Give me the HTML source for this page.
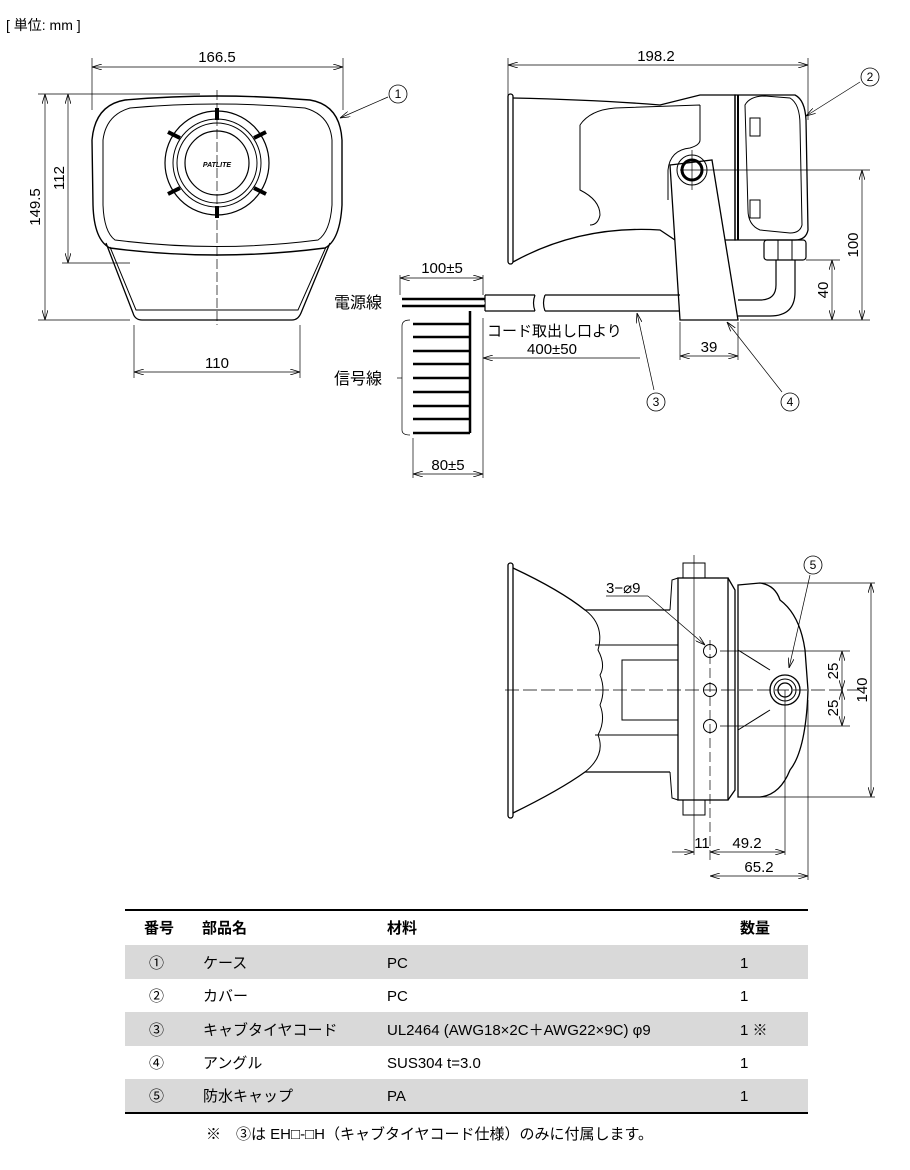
<!DOCTYPE html>
<html><head><meta charset="utf-8"><style>
body{margin:0;background:#fff;}
svg{display:block;font-family:"Liberation Sans","Noto Sans CJK JP",sans-serif;}
</style></head><body>
<svg width="910" height="1170" viewBox="0 0 910 1170" xmlns="http://www.w3.org/2000/svg">
<defs>
<marker id="a" viewBox="0 0 10 6" refX="10" refY="3" markerWidth="10" markerHeight="6" orient="auto-start-reverse" markerUnits="userSpaceOnUse"><path d="M0,0 L10,3 L0,6" fill="none" stroke="#000" stroke-width="0.8"/></marker>
</defs>
<text x="6" y="30" font-size="14">[ 単位: mm ]</text>
<g stroke="#000" fill="none" stroke-width="1">
<!-- FRONT VIEW -->
<line x1="92" y1="58" x2="92" y2="110" stroke-width="0.7"/>
<line x1="343" y1="58" x2="343" y2="110" stroke-width="0.7"/>
<line x1="92" y1="67" x2="343" y2="67" stroke-width="0.7" marker-start="url(#a)" marker-end="url(#a)"/>
<path d="M92,140 Q95,105 125,100 Q217,92 310,100 Q340,105 342,140 L342,205 Q340,240 325,248 Q217,262 110,248 Q94,240 93,205 Z" stroke-width="1.4"/>
<path d="M103,140 Q106,115 130,108 Q217,100 305,108 Q330,115 332,140 L332,205 Q330,232 318,240 Q217,253 115,240 Q104,232 103,205 Z"/>
<path d="M106,243 L133,313 Q135,320 142,320 L292,320 Q298,320 301,313 L330,243" stroke-width="1.3"/>
<path d="M110,247 L136,310 L298,310 L326,247"/>
<circle cx="217" cy="163" r="52" stroke-width="1.2"/>
<circle cx="217" cy="163" r="44"/>
<circle cx="217" cy="163" r="40"/>
<circle cx="217" cy="163" r="32" stroke-width="1.2"/>
<g stroke-width="4"><line x1="217" y1="108" x2="217" y2="120"/><line x1="217" y1="206" x2="217" y2="218"/><line x1="168" y1="132" x2="180" y2="138"/><line x1="266" y1="132" x2="254" y2="138"/><line x1="168" y1="194" x2="180" y2="188"/><line x1="266" y1="194" x2="254" y2="188"/></g>
<line x1="217" y1="90" x2="217" y2="325" stroke-dasharray="10,3" stroke-width="0.7"/>
<line x1="38" y1="94" x2="200" y2="94" stroke-width="0.7"/>
<line x1="38" y1="320" x2="130" y2="320" stroke-width="0.7"/>
<line x1="45" y1="94" x2="45" y2="320" stroke-width="0.7" marker-start="url(#a)" marker-end="url(#a)"/>
<line x1="62" y1="263" x2="130" y2="263" stroke-width="0.7"/>
<line x1="68" y1="94" x2="68" y2="263" stroke-width="0.7" marker-start="url(#a)" marker-end="url(#a)"/>
<line x1="134" y1="325" x2="134" y2="378" stroke-width="0.7"/>
<line x1="300" y1="325" x2="300" y2="378" stroke-width="0.7"/>
<line x1="134" y1="372" x2="300" y2="372" stroke-width="0.7" marker-start="url(#a)" marker-end="url(#a)"/>
<line x1="340" y1="118" x2="388" y2="97" stroke-width="0.7" marker-start="url(#a)"/>
<circle cx="398" cy="94" r="9" stroke-width="0.8"/>
<!-- SIDE VIEW -->
<line x1="508" y1="58" x2="508" y2="95" stroke-width="0.7"/>
<line x1="808" y1="58" x2="808" y2="120" stroke-width="0.7"/>
<line x1="508" y1="65" x2="808" y2="65" stroke-width="0.7" marker-start="url(#a)" marker-end="url(#a)"/>
<rect x="508" y="94" width="5" height="170" rx="2.5" stroke-width="1.3"/>
<path d="M513,98 Q600,100 660,105 L700,95 L735,95 L735,240 L675,240 L660,230 Q580,225 513,262" stroke-width="1.3"/>
<path d="M700,105 L700,140 Q700,145 690,148 Q670,150 668,170 L668,200 M580,125 Q590,110 615,108 L700,105 M580,125 L580,190 Q600,200 600,215 Q598,225 590,225"/>
<path d="M735,95 L795,95 Q805,100 806,120 L808,230 Q806,240 795,240 L735,240 Z" stroke-width="1.3"/>
<path d="M745,105 Q750,96 765,96 L790,98 Q800,104 800,125 L802,225 Q800,233 790,233 L760,230 Q748,225 748,210 Z"/>
<line x1="738" y1="95" x2="738" y2="240" stroke-width="2"/>
<rect x="750" y="118" width="10" height="18"/><rect x="750" y="200" width="10" height="18"/>
<rect x="764" y="240" width="42" height="20" rx="3" stroke-width="1.2"/>
<line x1="778" y1="240" x2="778" y2="260"/><line x1="792" y1="240" x2="792" y2="260"/>
<path d="M776,260 L776,285 Q776,300 760,300 L738,300 M795,260 L795,292 Q795,316 770,316 L738,316" stroke-width="1.2"/>
<path d="M670,165 L712,160 L738,320 L680,320 Z" fill="#fff" stroke-width="1.3"/>
<circle cx="692" cy="170" r="10" stroke-width="3"/>
<circle cx="692" cy="170" r="15"/>
<line x1="692" y1="150" x2="692" y2="190" stroke-width="0.7"/>
<line x1="680" y1="170" x2="870" y2="170" stroke-width="0.7"/>
<line x1="740" y1="320" x2="870" y2="320" stroke-width="0.7"/>
<line x1="806" y1="260" x2="840" y2="260" stroke-width="0.7"/>
<line x1="862" y1="170" x2="862" y2="320" stroke-width="0.7" marker-start="url(#a)" marker-end="url(#a)"/>
<line x1="832" y1="260" x2="832" y2="320" stroke-width="0.7" marker-start="url(#a)" marker-end="url(#a)"/>
<line x1="806" y1="116" x2="860" y2="82" stroke-width="0.7" marker-start="url(#a)"/>
<circle cx="870" cy="77" r="9" stroke-width="0.8"/>
<!-- cable -->
<path d="M485,295 L535,295 M485,311 L535,311 M535,295 Q532,303 535,311 M545,295 Q542,303 545,311 M545,295 L680,295 M545,311 L680,311" stroke-width="1.2"/>
<line x1="485" y1="295" x2="485" y2="311" stroke-width="1.2"/>
<line x1="402" y1="299" x2="485" y2="299" stroke-width="2.5"/><line x1="402" y1="306" x2="485" y2="306" stroke-width="2.5"/>
<line x1="402" y1="303" x2="485" y2="303" stroke="#fff" stroke-width="1"/>
<path d="M470,311 L470,433" stroke-width="2.5"/>
<g stroke-width="2.5"><line x1="413" y1="324" x2="470" y2="324"/><line x1="413" y1="337" x2="470" y2="337"/><line x1="413" y1="351" x2="470" y2="351"/><line x1="413" y1="364" x2="470" y2="364"/><line x1="413" y1="378" x2="470" y2="378"/><line x1="413" y1="392" x2="470" y2="392"/><line x1="413" y1="406" x2="470" y2="406"/><line x1="413" y1="419" x2="470" y2="419"/><line x1="413" y1="433" x2="470" y2="433"/></g>
<path d="M410,320 Q402,320 402,326 L402,430 Q402,435 410,435" stroke-width="0.7"/>
<line x1="397" y1="378" x2="402" y2="378" stroke-width="0.7"/>
<line x1="400" y1="275" x2="400" y2="295" stroke-width="0.7"/>
<line x1="483" y1="275" x2="483" y2="295" stroke-width="0.7"/>
<line x1="400" y1="278" x2="483" y2="278" stroke-width="0.7" marker-start="url(#a)" marker-end="url(#a)"/>
<line x1="413" y1="438" x2="413" y2="478" stroke-width="0.7"/>
<line x1="483" y1="318" x2="483" y2="478" stroke-width="0.7"/>
<line x1="413" y1="474" x2="483" y2="474" stroke-width="0.7" marker-start="url(#a)" marker-end="url(#a)"/>
<line x1="483" y1="358" x2="640" y2="358" stroke-width="0.7" marker-start="url(#a)"/>
<line x1="680" y1="322" x2="680" y2="360" stroke-width="0.7"/>
<line x1="738" y1="322" x2="738" y2="360" stroke-width="0.7"/>
<line x1="680" y1="356" x2="738" y2="356" stroke-width="0.7" marker-start="url(#a)" marker-end="url(#a)"/>
<line x1="637" y1="313" x2="654" y2="390" stroke-width="0.7" marker-start="url(#a)"/>
<circle cx="656" cy="402" r="9" stroke-width="0.8"/>
<line x1="727" y1="322" x2="782" y2="392" stroke-width="0.7" marker-start="url(#a)"/>
<circle cx="790" cy="402" r="9" stroke-width="0.8"/>
<!-- BOTTOM VIEW -->
<rect x="508" y="563" width="5" height="255" rx="2.5" stroke-width="1.3"/>
<path d="M513,568 Q560,590 585,610 L670,610 M513,813 Q560,790 585,772 L670,772" stroke-width="1.3"/>
<path d="M585,610 Q605,625 598,650 Q606,665 600,675 Q606,690 600,705 Q606,720 598,735 Q606,755 585,772"/>
<path d="M595,645 L678,645 M595,735 L678,735"/>
<rect x="622" y="660" width="56" height="60"/>
<path d="M670,610 L672,580 L678,578 M670,772 L672,798 L678,800" />
<rect x="678" y="578" width="50" height="222" stroke-width="1.3"/>
<path d="M728,578 L735,590 L735,790 L728,800" stroke-width="1.3"/>
<rect x="683" y="563" width="22" height="15"/><rect x="683" y="800" width="22" height="15"/>
<path d="M738,585 L760,583 Q775,585 780,600 Q800,615 805,650 L808,690 Q806,750 790,770 Q780,795 760,797 L738,797 Z" stroke-width="1.3"/>
<path d="M738,650 L770,670 M738,730 L770,710"/>
<circle cx="785" cy="690" r="15" stroke-width="1.3"/>
<circle cx="785" cy="690" r="11"/>
<circle cx="785" cy="690" r="7" stroke-width="1.3"/>
<circle cx="710" cy="651" r="6.5"/><circle cx="710" cy="690" r="6.5"/><circle cx="710" cy="726" r="6.5"/>
<line x1="505" y1="690" x2="860" y2="690" stroke-dasharray="14,4" stroke-width="0.7"/>
<line x1="710" y1="640" x2="710" y2="860" stroke-dasharray="10,4" stroke-width="0.7"/>
<line x1="694" y1="555" x2="694" y2="855" stroke-width="0.7"/>
<line x1="785" y1="690" x2="785" y2="855" stroke-width="0.7"/>
<line x1="808" y1="700" x2="808" y2="880" stroke-width="0.7"/>
<line x1="720" y1="651" x2="850" y2="651" stroke-width="0.7"/>
<line x1="720" y1="726" x2="850" y2="726" stroke-width="0.7"/>
<line x1="760" y1="583" x2="875" y2="583" stroke-width="0.7"/>
<line x1="760" y1="797" x2="875" y2="797" stroke-width="0.7"/>
<line x1="842" y1="651" x2="842" y2="690" stroke-width="0.7" marker-start="url(#a)" marker-end="url(#a)"/>
<line x1="842" y1="690" x2="842" y2="726" stroke-width="0.7" marker-start="url(#a)" marker-end="url(#a)"/>
<line x1="871" y1="583" x2="871" y2="797" stroke-width="0.7" marker-start="url(#a)" marker-end="url(#a)"/>
<line x1="672" y1="852" x2="694" y2="852" stroke-width="0.7" marker-end="url(#a)"/>
<line x1="710" y1="852" x2="785" y2="852" stroke-width="0.7" marker-start="url(#a)" marker-end="url(#a)"/>
<line x1="710" y1="876" x2="808" y2="876" stroke-width="0.7" marker-start="url(#a)" marker-end="url(#a)"/>
<line x1="606" y1="596" x2="648" y2="596" stroke-width="0.7"/>
<line x1="648" y1="596" x2="705" y2="645" stroke-width="0.7" marker-end="url(#a)"/>
<line x1="810" y1="575" x2="789" y2="668" stroke-width="0.7" marker-end="url(#a)"/>
<circle cx="813" cy="565" r="9" stroke-width="0.8"/>
</g>
<g font-size="15" fill="#000">
<text x="217" y="62" text-anchor="middle">166.5</text>
<text x="656" y="61" text-anchor="middle">198.2</text>
<text x="217" y="368" text-anchor="middle">110</text>
<text transform="translate(40,207) rotate(-90)" text-anchor="middle">149.5</text>
<text transform="translate(64,178) rotate(-90)" text-anchor="middle">112</text>
<text transform="translate(858,245) rotate(-90)" text-anchor="middle">100</text>
<text transform="translate(828,290) rotate(-90)" text-anchor="middle">40</text>
<text x="442" y="273" text-anchor="middle">100±5</text>
<text x="448" y="470" text-anchor="middle">80±5</text>
<text x="552" y="354" text-anchor="middle">400±50</text>
<text x="709" y="352" text-anchor="middle">39</text>
<text x="334" y="308" font-size="16">電源線</text>
<text x="334" y="384" font-size="16">信号線</text>
<text x="487" y="336" font-size="15">コード取出し口より</text>
<text x="606" y="593">3−⌀9</text>
<text transform="translate(838,671) rotate(-90)" text-anchor="middle">25</text>
<text transform="translate(838,708) rotate(-90)" text-anchor="middle">25</text>
<text transform="translate(867,690) rotate(-90)" text-anchor="middle">140</text>
<text x="702" y="848" text-anchor="middle">11</text>
<text x="747" y="848" text-anchor="middle">49.2</text>
<text x="759" y="872" text-anchor="middle">65.2</text>
<text x="217" y="167" font-size="7" font-weight="bold" font-style="italic" text-anchor="middle">PATLITE</text>
<g font-size="12" text-anchor="middle"><text x="398" y="98">1</text><text x="870" y="81">2</text><text x="656" y="406">3</text><text x="790" y="406">4</text><text x="813" y="569">5</text></g>
</g>
<!-- TABLE -->
<rect x="125" y="945" width="683" height="34" fill="#d9d9d9"/>
<rect x="125" y="1012" width="683" height="34" fill="#d9d9d9"/>
<rect x="125" y="1079" width="683" height="34" fill="#d9d9d9"/>
<line x1="125" y1="910" x2="808" y2="910" stroke="#000" stroke-width="2"/>
<line x1="125" y1="1113" x2="808" y2="1113" stroke="#000" stroke-width="2"/>
<g font-size="15" fill="#000">
<g font-weight="bold"><text x="144" y="933">番号</text><text x="202" y="933">部品名</text><text x="387" y="933">材料</text><text x="740" y="933">数量</text></g>
<text x="149" y="968">①</text><text x="203" y="968">ケース</text><text x="387" y="968">PC</text><text x="740" y="968">1</text>
<text x="149" y="1001">②</text><text x="203" y="1001">カバー</text><text x="387" y="1001">PC</text><text x="740" y="1001">1</text>
<text x="149" y="1035">③</text><text x="203" y="1035">キャブタイヤコード</text><text x="387" y="1035">UL2464 (AWG18×2C＋AWG22×9C) φ9</text><text x="740" y="1035">1 ※</text>
<text x="149" y="1068">④</text><text x="203" y="1068">アングル</text><text x="387" y="1068">SUS304 t=3.0</text><text x="740" y="1068">1</text>
<text x="149" y="1101">⑤</text><text x="203" y="1101">防水キャップ</text><text x="387" y="1101">PA</text><text x="740" y="1101">1</text>
<text x="206" y="1139">※　③は EH□-□H（キャブタイヤコード仕様）のみに付属します。</text>
</g>
</svg>
</body></html>
